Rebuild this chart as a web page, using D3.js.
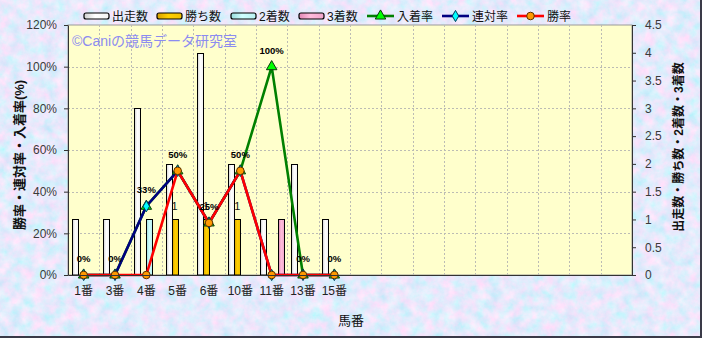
<!DOCTYPE html>
<html>
<head>
<meta charset="utf-8">
<script src="https://cdn.jsdelivr.net/npm/d3@7"></script>
<style>
  html, body { margin: 0; padding: 0; background: #fff; }
  svg { display: block; font-family: "Liberation Sans", "Noto Sans CJK JP", sans-serif; }
</style>
</head>
<body>
<svg id="chart" width="702" height="338"></svg>
<script>
// Horse numbers (18 slots on the category axis, 9 of them used)
const horseLabels = ["1番", "3番", "4番", "5番", "6番", "10番", "11番", "13番", "15番"];
const slotCount = 18;

// Counts (right axis)
const starts  = [1, 1, 3, 2, 4, 2, 1, 2, 1];
const wins    = [0, 0, 0, 1, 1, 1, 0, 0, 0];
const seconds = [0, 0, 1, 0, 0, 0, 0, 0, 0];
const thirds  = [0, 0, 0, 0, 0, 0, 1, 0, 0];

// Rates in % (left axis)
const placeRate    = [0, 0, 33, 50, 25, 50, 100, 0, 0];
const quinellaRate = [0, 0, 33, 50, 25, 50, 0, 0, 0];
const winRate      = [0, 0, 0, 50, 25, 50, 0, 0, 0];

const leftTicks  = [0, 20, 40, 60, 80, 100, 120];
const rightTicks = [0, 0.5, 1, 1.5, 2, 2.5, 3, 3.5, 4, 4.5];

const svg = d3.select("#chart");
const W = 702, H = 338;
const plot = { left: 68, right: 632, top: 25, bottom: 275 };

const defs = svg.append("defs");

// mottled blue / lavender paper texture for the background
const tex = defs.append("filter").attr("id", "paper")
  .attr("x", 0).attr("y", 0).attr("width", "100%").attr("height", "100%");
tex.append("feTurbulence").attr("type", "fractalNoise")
  .attr("baseFrequency", 0.09).attr("numOctaves", 4).attr("seed", 7).attr("result", "n");
tex.append("feColorMatrix").attr("in", "n").attr("type", "matrix")
  .attr("values", [
    "0.75 0 0 0 0.41",
    "-0.15 0.22 0 0 0.79",
    "0 0.05 0 0 0.945",
    "0 0 0 0 1"].join(" "));

// bar shading gradients
function barGradient(id, edge, mid, far) {
  const g = defs.append("linearGradient").attr("id", id)
    .attr("x1", 0).attr("x2", 1).attr("y1", 0).attr("y2", 0);
  g.append("stop").attr("offset", "0%").attr("stop-color", edge);
  g.append("stop").attr("offset", "45%").attr("stop-color", mid);
  g.append("stop").attr("offset", "100%").attr("stop-color", far);
}
barGradient("gStarts", "#d0d0d0", "#ffffff", "#f2f2f2");
barGradient("gWins", "#d8a000", "#ffd000", "#f0c000");
barGradient("gSeconds", "#98dcdc", "#d0ffff", "#b8f0f0");
barGradient("gThirds", "#e088b4", "#ffbcdc", "#f0a4ca");

// background
svg.append("rect").attr("width", W).attr("height", H).attr("filter", "url(#paper)");

// outer frame shadow (right and bottom)
svg.append("line").attr("x1", W - 1).attr("x2", W - 1).attr("y1", 0).attr("y2", H)
  .attr("stroke", "#3a3a48").attr("stroke-width", 2);
svg.append("line").attr("x1", 0).attr("x2", W).attr("y1", H - 1).attr("y2", H - 1)
  .attr("stroke", "#3a3a48").attr("stroke-width", 2);

// scales
const x = d3.scaleBand().domain(d3.range(slotCount)).range([plot.left, plot.right]);
const series = ["starts", "wins", "seconds", "thirds"];
const xi = d3.scaleBand().domain(series).range([0, x.bandwidth()]).paddingOuter(0.61);
const yL = d3.scaleLinear().domain([0, 120]).range([plot.bottom, plot.top]);
const yR = d3.scaleLinear().domain([0, 4.5]).range([plot.bottom, plot.top]);

// plot area
svg.append("rect")
  .attr("x", plot.left).attr("y", plot.top)
  .attr("width", plot.right - plot.left).attr("height", plot.bottom - plot.top)
  .attr("fill", "#ffffcc").attr("stroke", "#9a9a9a");

// grid
const grid = svg.append("g").attr("stroke", "#bcbcb4").attr("stroke-dasharray", "2,2").attr("stroke-width", 1);
grid.selectAll("line.h").data(leftTicks.slice(1, -1)).join("line")
  .attr("x1", plot.left).attr("x2", plot.right)
  .attr("y1", d => Math.round(yL(d)) + 0.5).attr("y2", d => Math.round(yL(d)) + 0.5);
grid.selectAll("line.v").data(d3.range(1, slotCount)).join("line")
  .attr("y1", plot.top).attr("y2", plot.bottom)
  .attr("x1", d => Math.round(x(d)) + 0.5).attr("x2", d => Math.round(x(d)) + 0.5);

// watermark
svg.append("text").attr("x", 72).attr("y", 46)
  .attr("font-size", 14).attr("fill", "#8c8cf0")
  .text("©Caniの競馬データ研究室");

// bars
const barData = [];
horseLabels.forEach((h, i) => {
  barData.push({ i, key: "starts", v: starts[i], fill: "url(#gStarts)" });
  barData.push({ i, key: "wins", v: wins[i], fill: "url(#gWins)" });
  barData.push({ i, key: "seconds", v: seconds[i], fill: "url(#gSeconds)" });
  barData.push({ i, key: "thirds", v: thirds[i], fill: "url(#gThirds)" });
});
svg.append("g").selectAll("rect").data(barData.filter(d => d.v > 0)).join("rect")
  .attr("x", d => Math.round(x(d.i) + xi(d.key)) + 0.5)
  .attr("width", Math.round(xi.bandwidth()))
  .attr("y", d => Math.round(yR(d.v)) + 0.5)
  .attr("height", d => yR(0) - Math.round(yR(d.v)) - 0.5)
  .attr("fill", d => d.fill)
  .attr("stroke", "#000").attr("stroke-width", 1);

// win-count labels
svg.append("g").selectAll("text").data(wins.map((v, i) => ({ v, i })).filter(d => d.v > 0)).join("text")
  .attr("x", d => x(d.i) + xi("wins") + xi.bandwidth() / 2)
  .attr("y", d => yR(d.v) - 9)
  .attr("text-anchor", "middle").attr("font-size", 11).attr("fill", "#111")
  .text(d => d.v);

// rate lines
const cx = i => x(i) + x.bandwidth() / 2;
const lineGen = d3.line().x((d, i) => cx(i)).y(d => yL(d));
svg.append("path").datum(placeRate).attr("d", lineGen)
  .attr("fill", "none").attr("stroke", "#008000").attr("stroke-width", 2.6);
svg.append("path").datum(quinellaRate).attr("d", lineGen)
  .attr("fill", "none").attr("stroke", "#000080").attr("stroke-width", 2.6);
svg.append("path").datum(winRate).attr("d", lineGen)
  .attr("fill", "none").attr("stroke", "#ff0000").attr("stroke-width", 2.6);

// markers
const tri = d3.symbol().type(d3.symbolTriangle).size(48);
const dia = d3.symbol().type(d3.symbolDiamond).size(36);
svg.append("g").selectAll("path").data(placeRate).join("path")
  .attr("transform", (d, i) => `translate(${cx(i)},${yL(d)})`)
  .attr("d", tri).attr("fill", "#00ff00").attr("stroke", "#0a3a0a").attr("stroke-width", 1);
svg.append("g").selectAll("path").data(quinellaRate).join("path")
  .attr("transform", (d, i) => `translate(${cx(i)},${yL(d)})`)
  .attr("d", dia).attr("fill", "#00ffff").attr("stroke", "#003a5a").attr("stroke-width", 1);
svg.append("g").selectAll("circle").data(winRate).join("circle")
  .attr("cx", (d, i) => cx(i)).attr("cy", d => yL(d)).attr("r", 3.8)
  .attr("fill", "#ff9900").attr("stroke", "#5a3000").attr("stroke-width", 1);

// rate labels
svg.append("g").selectAll("text").data(placeRate).join("text")
  .attr("x", (d, i) => cx(i)).attr("y", d => yL(d) - 13)
  .attr("text-anchor", "middle").attr("font-size", 9.5).attr("font-weight", "bold").attr("fill", "#000")
  .text(d => d + "%");

// axes
const axisStyle = g => {
  g.selectAll(".domain").attr("stroke", "#333");
  g.selectAll(".tick line").attr("stroke", "#333");
  g.selectAll(".tick text").attr("fill", "#3a3a3a").attr("font-size", 12)
    .attr("font-family", "'Liberation Sans', 'Noto Sans CJK JP', sans-serif");
};
svg.append("g").attr("transform", `translate(${plot.left},0)`)
  .call(d3.axisLeft(yL).tickValues(leftTicks).tickFormat(d => d + "%").tickSize(4).tickPadding(7).tickSizeOuter(0))
  .call(axisStyle);
svg.append("g").attr("transform", `translate(${plot.right},0)`)
  .call(d3.axisRight(yR).tickValues(rightTicks).tickFormat(d3.format("~g")).tickSize(4).tickPadding(9).tickSizeOuter(0))
  .call(axisStyle);
svg.append("g").attr("transform", `translate(0,${plot.bottom})`)
  .call(d3.axisBottom(x).tickFormat(i => horseLabels[i] || "").tickSize(0).tickPadding(11))
  .call(axisStyle)
  .call(g => g.selectAll(".tick text").attr("fill", "#222"));

// axis titles
svg.append("text").attr("transform", "translate(24,155) rotate(-90)")
  .attr("text-anchor", "middle").attr("font-size", 13).attr("font-weight", "bold").attr("fill", "#111")
  .text("勝率・連対率・入着率(%)");
svg.append("text").attr("transform", "translate(683,147) rotate(-90)")
  .attr("text-anchor", "middle").attr("font-size", 12).attr("font-weight", "bold").attr("fill", "#111")
  .text("出走数・勝ち数・2着数・3着数");
svg.append("text").attr("x", 351).attr("y", 325)
  .attr("text-anchor", "middle").attr("font-size", 13).attr("fill", "#111")
  .text("馬番");

// legend
const legend = svg.append("g").attr("font-size", 12).attr("fill", "#111");
const barItems = [
  { label: "出走数", fill: "url(#gStarts)", x: 84 },
  { label: "勝ち数", fill: "url(#gWins)", x: 157 },
  { label: "2着数", fill: "url(#gSeconds)", x: 231 },
  { label: "3着数", fill: "url(#gThirds)", x: 299 }
];
barItems.forEach(it => {
  legend.append("rect").attr("x", it.x).attr("y", 13).attr("width", 25).attr("height", 6)
    .attr("rx", 2).attr("fill", it.fill).attr("stroke", "#000").attr("stroke-width", 1.2);
  legend.append("text").attr("x", it.x + 28).attr("y", 21).text(it.label);
});
const lineItems = [
  { label: "入着率", color: "#008000", x: 367, mark: "tri" },
  { label: "連対率", color: "#000080", x: 442, mark: "dia" },
  { label: "勝率", color: "#ff0000", x: 517, mark: "circ" }
];
lineItems.forEach(it => {
  legend.append("line").attr("x1", it.x).attr("x2", it.x + 27).attr("y1", 16).attr("y2", 16)
    .attr("stroke", it.color).attr("stroke-width", 2.6);
  const mx = it.x + 13.5;
  if (it.mark === "tri") legend.append("path").attr("transform", `translate(${mx},16)`).attr("d", tri)
    .attr("fill", "#00ff00").attr("stroke", "#0a3a0a");
  if (it.mark === "dia") legend.append("path").attr("transform", `translate(${mx},16)`).attr("d", dia)
    .attr("fill", "#00ffff").attr("stroke", "#003a5a");
  if (it.mark === "circ") legend.append("circle").attr("cx", mx).attr("cy", 16).attr("r", 3.8)
    .attr("fill", "#ff9900").attr("stroke", "#5a3000");
  legend.append("text").attr("x", it.x + 30).attr("y", 21).text(it.label);
});
</script>
</body>
</html>
